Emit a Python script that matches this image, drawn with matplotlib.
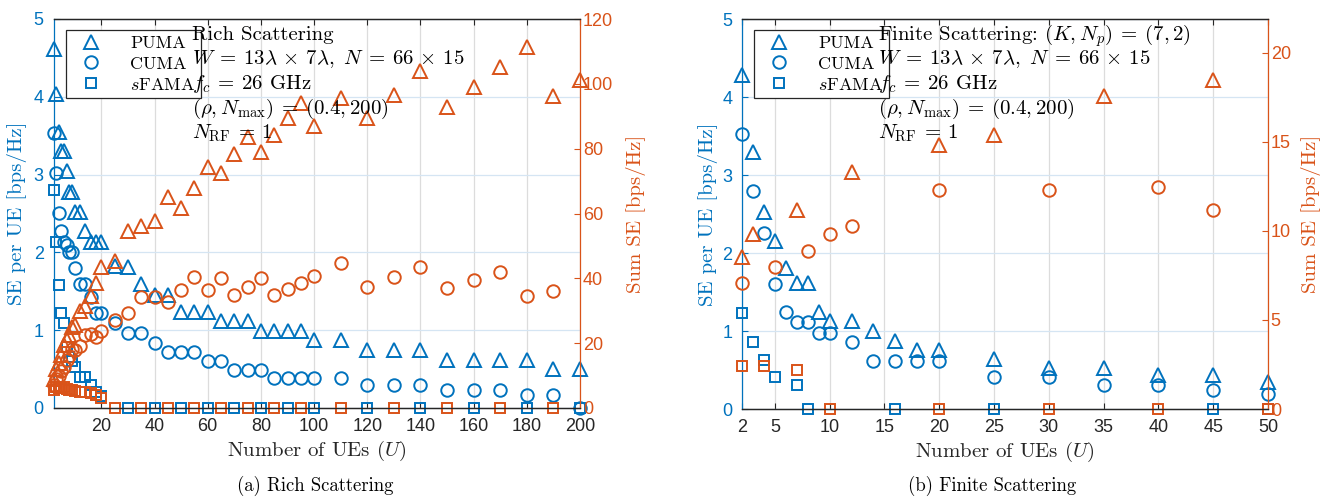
import matplotlib
matplotlib.use("Agg")
import matplotlib.pyplot as plt
from matplotlib.lines import Line2D

plt.rcParams['mathtext.fontset'] = 'cm'
plt.rcParams['font.family'] = ['Liberation Sans', 'DejaVu Sans']
plt.rcParams['axes.unicode_minus'] = False

BLUE = '#0072BD'
ORANGE = '#D95319'
DARK = '#262626'
CM = ['cmr10', 'DejaVu Serif']

# ---------------- (a) Rich scattering ----------------
U_a = [2, 3, 4, 5, 6, 7, 8, 9, 10, 12, 14, 16, 18, 20,
       25, 30, 35, 40, 45, 50, 55, 60, 65, 70, 75, 80, 85, 90, 95, 100,
       110, 120, 130, 140, 150, 160, 170, 180, 190, 200]
puma_ue_a = [4.61, 4.04, 3.55, 3.30, 3.30, 3.04, 2.78, 2.78, 2.52, 2.52, 2.27, 2.14, 2.14, 2.14,
             1.82, 1.81, 1.60, 1.45, 1.45, 1.23, 1.23, 1.23, 1.12, 1.12, 1.12, 0.99, 0.99, 0.99, 0.99, 0.87,
             0.87, 0.75, 0.75, 0.75, 0.62, 0.62, 0.62, 0.62, 0.50, 0.50]
puma_sum_a = [9.0, 12.0, 14.0, 16.5, 19.5, 21.0, 22.5, 25.0, 25.5, 30.0, 31.5, 34.5, 38.5, 43.5,
              45.5, 54.5, 56.0, 57.8, 65.0, 61.8, 68.0, 74.3, 72.4, 78.3, 83.5, 79.1, 84.3, 89.4, 94.0, 87.0,
              95.6, 89.4, 96.6, 104.1, 93.0, 99.0, 105.3, 111.5, 96.1, 101.2]
cuma_ue_a = [3.53, 3.02, 2.50, 2.27, 2.14, 2.10, 2.01, 2.01, 1.80, 1.60, 1.60, 1.43, 1.22, 1.22,
             1.09, 0.97, 0.97, 0.84, 0.72, 0.72, 0.72, 0.60, 0.60, 0.49, 0.49, 0.49, 0.39, 0.39, 0.39, 0.39,
             0.39, 0.29, 0.29, 0.29, 0.23, 0.23, 0.23, 0.17, 0.17, 0.0]
U_cuma_sum_a = U_a[:-1]
cuma_sum_a = [7.1, 9.1, 10.0, 11.4, 12.8, 14.7, 16.1, 18.1, 18.0, 19.2, 22.4, 22.9, 22.0, 23.8,
              27.2, 29.2, 34.2, 34.2, 32.8, 36.4, 40.3, 36.5, 40.0, 34.9, 37.4, 40.0, 34.9, 36.6, 38.5, 40.7,
              44.8, 37.3, 40.5, 43.6, 37.0, 39.5, 42.1, 34.4, 36.2]
U_sfama_ue_a = [2, 3, 4, 5, 6, 7, 8, 9, 10, 12, 14, 16, 18, 20,
                30, 40, 50, 60, 70, 80, 90, 100, 120, 140, 160, 180, 200]
sfama_ue_a = [2.80, 2.13, 1.58, 1.22, 1.09, 0.79, 0.65, 0.60, 0.53, 0.40, 0.40, 0.30, 0.21, 0.15,
              0, 0, 0, 0, 0, 0, 0, 0, 0, 0, 0, 0, 0]
U_sfama_sum_a = [2, 3, 4, 5, 6, 7, 8, 9, 10, 12, 14, 16, 18, 20,
                 25, 35, 45, 55, 65, 75, 85, 95, 110, 130, 150, 170, 190]
sfama_sum_a = [5.6, 6.4, 6.3, 6.1, 6.5, 5.8, 5.4, 5.4, 5.3, 4.8, 5.0, 4.6, 3.9, 3.2,
               0, 0, 0, 0, 0, 0, 0, 0, 0, 0, 0, 0, 0]
xticks_a = [20, 40, 60, 80, 100, 120, 140, 160, 180, 200]

# ---------------- (b) Finite scattering ----------------
U_b = [2, 3, 4, 5, 6, 7, 8, 9, 10, 12, 14, 16, 18, 20, 25, 30, 35, 40, 45, 50]
puma_ue_b = [4.28, 3.30, 2.52, 2.15, 1.81, 1.62, 1.62, 1.24, 1.13, 1.13, 1.00, 0.87, 0.76, 0.76,
             0.64, 0.52, 0.52, 0.43, 0.43, 0.34]
cuma_ue_b = [3.53, 2.79, 2.26, 1.60, 1.24, 1.11, 1.11, 0.98, 0.98, 0.86, 0.62, 0.62, 0.62, 0.62,
             0.41, 0.41, 0.31, 0.31, 0.25, 0.19]
U_sfama_ue_b = [2, 3, 4, 5, 7, 8, 16, 25, 45, 50]
sfama_ue_b = [1.23, 0.86, 0.63, 0.41, 0.31, 0, 0, 0, 0, 0]
U_puma_sum_b = [2, 3, 7, 12, 20, 25, 35, 45]
puma_sum_b = [8.56, 9.81, 11.2, 13.3, 14.8, 15.4, 17.6, 18.5]
U_cuma_sum_b = [2, 5, 8, 10, 12, 20, 30, 40, 45]
cuma_sum_b = [7.05, 8.0, 8.88, 9.81, 10.3, 12.28, 12.28, 12.49, 11.16]
U_sfama_sum_b = [2, 4, 7, 10, 20, 30, 40, 50]
sfama_sum_b = [2.43, 2.43, 2.2, 0, 0, 0, 0, 0]
xticks_b = [2, 5, 10, 15, 20, 25, 30, 35, 40, 45, 50]

W, H = 1328, 499
fig = plt.figure(figsize=(W / 100, H / 100), dpi=100)


def px_axes(x0, x1, ytop, ybot):
    return fig.add_axes([x0 / W, 1 - ybot / H, (x1 - x0) / W, (ybot - ytop) / H])


MS = dict(tri=10.5, circ=9, sq=7)
MEW = 1.4


def mk(ax, x, y, marker, color, ms):
    ax.plot(x, y, linestyle='none', marker=marker, markersize=ms, markerfacecolor='none',
            markeredgecolor=color, markeredgewidth=MEW, clip_on=False)


def style(ax, ax2, xlim, xticks, ylim2, yticks2):
    ax.set_xlim(*xlim)
    ax.set_xticks(xticks)
    ax.set_ylim(0, 5)
    ax.set_yticks([0, 1, 2, 3, 4, 5])
    ax2.set_ylim(*ylim2)
    ax2.set_yticks(yticks2)
    ax.grid(True, axis='x', color='#dcdcdc', linewidth=0.9)
    ax.grid(True, axis='y', color='#d5e5f3', linewidth=0.9)
    ax.set_axisbelow(True)
    for a in (ax, ax2):
        a.spines['top'].set_color(DARK)
        a.spines['bottom'].set_color(DARK)
        for s in a.spines.values():
            s.set_linewidth(0.9)
    ax.spines['left'].set_color(BLUE)
    ax.spines['right'].set_visible(False)
    ax2.spines['left'].set_visible(False)
    ax2.spines['right'].set_color(ORANGE)
    ax.tick_params(axis='x', direction='in', top=True, length=4, width=0.8, colors=DARK,
                   labelsize=13, pad=7)
    ax.tick_params(axis='y', direction='in', length=4, width=0.8, colors=BLUE, labelsize=13, pad=7)
    ax2.tick_params(axis='y', direction='in', length=4, width=0.8, colors=ORANGE, labelsize=13, pad=2)
    ax.set_ylabel('SE per UE [bps/Hz]', color=BLUE, fontsize=15, family=CM)
    ax2.set_ylabel('Sum SE [bps/Hz]', color=ORANGE, fontsize=15, family=CM)
    ax.set_xlabel('Number of UEs ($U$)', fontsize=15, color=DARK, family=CM)
    ax.xaxis.set_label_coords(0.5, -0.08)


def legend(ax, anchor):
    handles = [Line2D([], [], linestyle='none', marker='^', markersize=MS['tri'], markerfacecolor='none',
                      markeredgecolor=BLUE, markeredgewidth=MEW),
               Line2D([], [], linestyle='none', marker='o', markersize=MS['circ'], markerfacecolor='none',
                      markeredgecolor=BLUE, markeredgewidth=MEW),
               Line2D([], [], linestyle='none', marker='s', markersize=MS['sq'], markerfacecolor='none',
                      markeredgecolor=BLUE, markeredgewidth=MEW)]
    labels = ['PUMA', 'CUMA', '$s$FAMA']
    leg = ax.legend(handles, labels, loc='upper left', bbox_to_anchor=anchor, borderaxespad=0,
                    prop={'family': CM, 'size': 13}, frameon=True, fancybox=False, edgecolor=DARK,
                    framealpha=1, labelspacing=0.28, handletextpad=1.05, borderpad=0.3, handlelength=2.2)
    leg.get_frame().set_linewidth(0.9)
    leg.set_zorder(20)


def notes(x_px, lines):
    base = [40, 64.5, 89, 113.5, 138]
    for yb, t in zip(base, lines):
        fig.text(x_px / W, 1 - yb / H, t, fontsize=15, va='baseline', ha='left', color='black',
                 family=CM, zorder=30)


params = [r'$W\:=\:13\lambda\,\times\,7\lambda,\ N\:=\:66\,\times\,15$',
          r'$f_c\:=\:26$ GHz',
          r'$(\rho,N_{\max})\:=\:(0.4,200)$',
          r'$N_{\mathrm{RF}}\:=\:1$']

# ---- panel (a)
axA = px_axes(53.5, 580, 19, 408)
axA2 = axA.twinx()
mk(axA, U_a, puma_ue_a, '^', BLUE, MS['tri'])
mk(axA, U_a, cuma_ue_a, 'o', BLUE, MS['circ'])
mk(axA, U_sfama_ue_a, sfama_ue_a, 's', BLUE, MS['sq'])
mk(axA2, U_a, puma_sum_a, '^', ORANGE, MS['tri'])
mk(axA2, U_cuma_sum_a, cuma_sum_a, 'o', ORANGE, MS['circ'])
mk(axA2, U_sfama_sum_a, sfama_sum_a, 's', ORANGE, MS['sq'])
style(axA, axA2, (2, 200), xticks_a, (0, 120), [0, 20, 40, 60, 80, 100, 120])
axA.yaxis.set_label_coords(-0.05, 0.5)
axA2.yaxis.set_label_coords(1.087, 0.5)
legend(axA, ((66 - 53.5) / 526.5, 1 - (30 - 19) / 389))
notes(192, ['Rich Scattering'] + params)

# ---- panel (b)
axB = px_axes(742, 1268, 19, 409)
axB2 = axB.twinx()
mk(axB, U_b, puma_ue_b, '^', BLUE, MS['tri'])
mk(axB, U_b, cuma_ue_b, 'o', BLUE, MS['circ'])
mk(axB, U_sfama_ue_b, sfama_ue_b, 's', BLUE, MS['sq'])
mk(axB2, U_puma_sum_b, puma_sum_b, '^', ORANGE, MS['tri'])
mk(axB2, U_cuma_sum_b, cuma_sum_b, 'o', ORANGE, MS['circ'])
mk(axB2, U_sfama_sum_b, sfama_sum_b, 's', ORANGE, MS['sq'])
style(axB, axB2, (2, 50), xticks_b, (0, 21.9), [0, 5, 10, 15, 20])
axB.yaxis.set_label_coords(-0.046, 0.5)
axB2.yaxis.set_label_coords(1.062, 0.5)
legend(axB, ((754 - 742) / 526, 1 - (30 - 19) / 390))
notes(878, [r'Finite Scattering: $(K,N_p)\:=\:(7,2)$'] + params)

# sub-captions
fig.text(315 / W, 1 - 486 / H, '(a) Rich Scattering', fontsize=13.5, ha='center',
         va='center', color='black', family=CM)
fig.text(992 / W, 1 - 486 / H, '(b) Finite Scattering', fontsize=13.5, ha='center',
         va='center', color='black', family=CM)

fig.savefig('out.png', dpi=100)
